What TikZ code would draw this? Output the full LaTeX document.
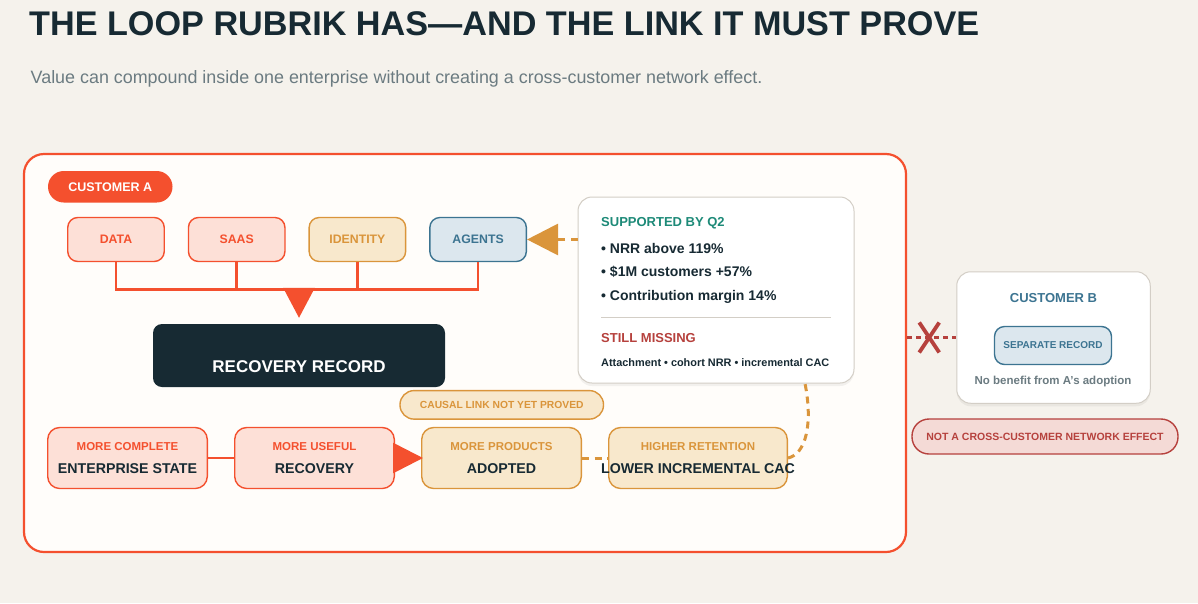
\documentclass[tikz,border=0pt]{standalone}
\usepackage{fontspec}
\setmainfont{Liberation Sans}
\usetikzlibrary{arrows.meta, positioning, calc, shadows}

\definecolor{canvas}{HTML}{F5F2EC}
\definecolor{paper}{HTML}{FFFDFA}
\definecolor{coralred}{HTML}{F4502E}
\definecolor{coralpink}{HTML}{FDE0D7}
\definecolor{ochre}{HTML}{DA953B}
\definecolor{ochrepale}{HTML}{F8E8CC}
\definecolor{steelblue}{HTML}{3C7491}
\definecolor{steelpale}{HTML}{DCE7EE}
\definecolor{inkdark}{HTML}{172A33}
\definecolor{tealgreen}{HTML}{1D8A78}
\definecolor{brickred}{HTML}{B6413D}
\definecolor{brickpale}{HTML}{F4DAD6}
\definecolor{slategrey}{HTML}{6B7B81}
\definecolor{cardline}{HTML}{D3CEC6}

\newcommand{\twotier}[3]{{\fontsize{11.5}{13}\selectfont\color{#1}#2}\\#3}

\begin{document}
\begin{tikzpicture}[
    x=1pt, y=-1pt,
    node distance=22.8pt,
    chip/.style={rectangle, rounded corners=10pt, line width=1.4pt,
                 minimum width=96.5pt, minimum height=44pt, inner sep=0pt,
                 font=\fontsize{12.3}{14}\selectfont\bfseries},
    hotchip/.style={chip, draw=coralred, fill=coralpink, text=coralred},
    ochrechip/.style={chip, draw=ochre, fill=ochrepale, text=ochre},
    bluechip/.style={chip, draw=steelblue, fill=steelpale, text=steelblue},
    loopbox/.style={rectangle, rounded corners=12pt, line width=1.4pt,
                    minimum width=159.6pt, minimum height=61pt, inner sep=0pt, align=center,
                    text=inkdark, font=\fontsize{14.2}{22.2}\selectfont\bfseries},
    pill/.style={rectangle, rounded corners=14pt, line width=1.4pt, inner sep=0pt,
                 font=\fontsize{10.3}{12}\selectfont\bfseries},
    card/.style={rectangle, rounded corners=14pt, draw=cardline, line width=1pt, fill=white,
                 drop shadow={shadow xshift=0pt, shadow yshift=-3pt, opacity=0.10}},
    cardtext/.style={anchor=base west, inner sep=0pt},
    link/.style={draw=coralred, line width=2.7pt},
    hint/.style={draw=ochre, line width=3pt, dash pattern=on 7pt off 5.5pt},
    nolink/.style={draw=brickred, line width=2.2pt, dash pattern=on 5pt off 4pt},
    bigtip/.style={-{Triangle[length=31pt, width=31pt]}}
]
\fill[canvas] (0,0) rectangle (1198,603);
\useasboundingbox (0,0) rectangle (1198,603);

\node[anchor=base west, inner sep=0pt, text=inkdark, font=\fontsize{34.2}{40}\selectfont\bfseries] (title) at (29,35)
    {THE LOOP RUBRIK HAS—AND THE LINK IT MUST PROVE};
\node[anchor=base west, inner sep=0pt, text=slategrey, font=\fontsize{17.9}{20}\selectfont] (subtitle) at (30.5,83)
    {Value can compound inside one enterprise without creating a cross-customer network effect.};

% customer A
\node[rectangle, rounded corners=20pt, draw=coralred, fill=paper, line width=2.2pt,
      minimum width=882pt, minimum height=398pt] (frameA) at (465,353) {};
\node[pill, fill=coralred, text=white, rounded corners=15.75pt, minimum width=124.5pt, minimum height=31.5pt,
      font=\fontsize{12.5}{14}\selectfont\bfseries] (tagA) at (110.25,186.75) {CUSTOMER A};

\node[hotchip] (data) at (116,239.5) {DATA};
\node[hotchip, right=of data] (saas) {SAAS};
\node[ochrechip, right=of saas] (identity) {IDENTITY};
\node[bluechip, right=of identity] (agents) {AGENTS};

\node[rectangle, rounded corners=9pt, fill=inkdark, text=white, minimum width=292pt, minimum height=63pt,
      text height=34.4pt, text depth=0pt, font=\fontsize{17}{20}\selectfont\bfseries] (rec) at (299,355.5) {RECOVERY RECORD};

\coordinate (bus) at ([yshift=34pt]rec.north);
\draw[link] (data.south) |- (bus) -| (agents.south);
\draw[link] (saas.south) -- (saas.south |- bus);
\draw[link] (identity.south) -- (identity.south |- bus);
\draw[link, -{Triangle[length=30pt, width=31pt]}] (bus) -- ([yshift=6pt]rec.north);

% evidence
\node[card, minimum width=276pt, minimum height=186pt] (evidence) at (716,290) {};
\node[cardtext, text=tealgreen, font=\fontsize{13}{15}\selectfont\bfseries] (supported)
    at ([shift={(23.5,30)}]evidence.north west) {SUPPORTED BY Q2};
\node[cardtext, text=inkdark, font=\fontsize{14}{16}\selectfont\bfseries] (nrr)
    at ([shift={(23.5,57)}]evidence.north west) {• NRR above 119\%};
\node[cardtext, text=inkdark, font=\fontsize{14}{16}\selectfont\bfseries] (million)
    at ([shift={(23.5,80)}]evidence.north west) {• \$1M customers +57\%};
\node[cardtext, text=inkdark, font=\fontsize{14}{16}\selectfont\bfseries] (margin)
    at ([shift={(23.5,103.7)}]evidence.north west) {• Contribution margin 14\%};
\draw[cardline, line width=1pt] ([shift={(23.5,121)}]evidence.north west) -- ([shift={(-23.5,121)}]evidence.north east);
\node[cardtext, text=brickred, font=\fontsize{13}{15}\selectfont\bfseries] (missing)
    at ([shift={(23.5,145.7)}]evidence.north west) {STILL MISSING};
\node[cardtext, text=inkdark, font=\fontsize{10.9}{13}\selectfont\bfseries] (gaps)
    at ([shift={(23.5,170)}]evidence.north west) {Attachment • cohort NRR • incremental CAC};

\draw[hint, bigtip] (evidence.west |- agents.east) -- (agents.east);

\node[pill, draw=ochre, fill=ochrepale, text=ochre, minimum width=203.5pt, minimum height=28.5pt] (causal)
    at (501.75,404.85) {CAUSAL LINK NOT YET PROVED};

% loop
\node[loopbox, draw=coralred, fill=coralpink] (complete) at (127.5,458)
    {\twotier{coralred}{MORE COMPLETE}{ENTERPRISE STATE}};
\node[loopbox, draw=coralred, fill=coralpink, right=26pt of complete] (useful)
    {\twotier{coralred}{MORE USEFUL}{RECOVERY}};
\node[loopbox, draw=ochre, fill=ochrepale, right=26pt of useful] (adopted)
    {\twotier{ochre}{MORE PRODUCTS}{ADOPTED}};
\node[loopbox, draw=ochre, fill=ochrepale, minimum width=178.6pt, right=26pt of adopted] (retention)
    {\twotier{ochre}{HIGHER RETENTION}{\makebox[0pt]{LOWER INCREMENTAL CAC}}};

\draw[link] (complete) -- (useful);
\draw[link, -{Triangle[length=30pt, width=30pt]}] ([xshift=-2pt]useful.east) -- ([xshift=2pt]adopted.west);
\draw[hint] (adopted) -- (retention);
\draw[hint] (retention.east) .. controls +(18,-4) and +(8,40) .. ([xshift=89pt]evidence.south);

% customer B
\node[card, minimum width=193.5pt, minimum height=131.5pt] (custB) at (1053.5,337.5) {};
\node[anchor=base, inner sep=0pt, text=steelblue, font=\fontsize{13}{15}\selectfont\bfseries] (tagB)
    at ([yshift=-31.5pt]custB.north) {CUSTOMER B};
\node[chip, draw=steelblue, fill=steelpale, text=steelblue, minimum width=117pt, minimum height=38pt,
      font=\fontsize{10}{12}\selectfont\bfseries] (separate) at (1053,345.5) {SEPARATE RECORD};
\node[anchor=base, inner sep=0pt, text=slategrey, font=\fontsize{11.5}{13}\selectfont\bfseries] (nobenefit)
    at ([yshift=-19pt]separate.south) {No benefit from A's adoption};

\node[pill, draw=brickred, fill=brickpale, text=brickred, rounded corners=17pt, minimum width=266pt,
      minimum height=35pt, font=\fontsize{10.5}{12}\selectfont\bfseries] (notnet) at (1045,436.5)
    {NOT A CROSS-CUSTOMER NETWORK EFFECT};

\draw[nolink] (frameA.east |- custB.west) -- (custB.west);
\coordinate (cut) at ($(frameA.east |- custB.west)!0.45!(custB.west)$);
\draw[brickred, line width=3.8pt] ($(cut)+(-10,-15)$) -- ($(cut)+(10,15)$);
\draw[brickred, line width=3.8pt] ($(cut)+(10,-15)$) -- ($(cut)+(-10,15)$);
\end{tikzpicture}
\end{document}
